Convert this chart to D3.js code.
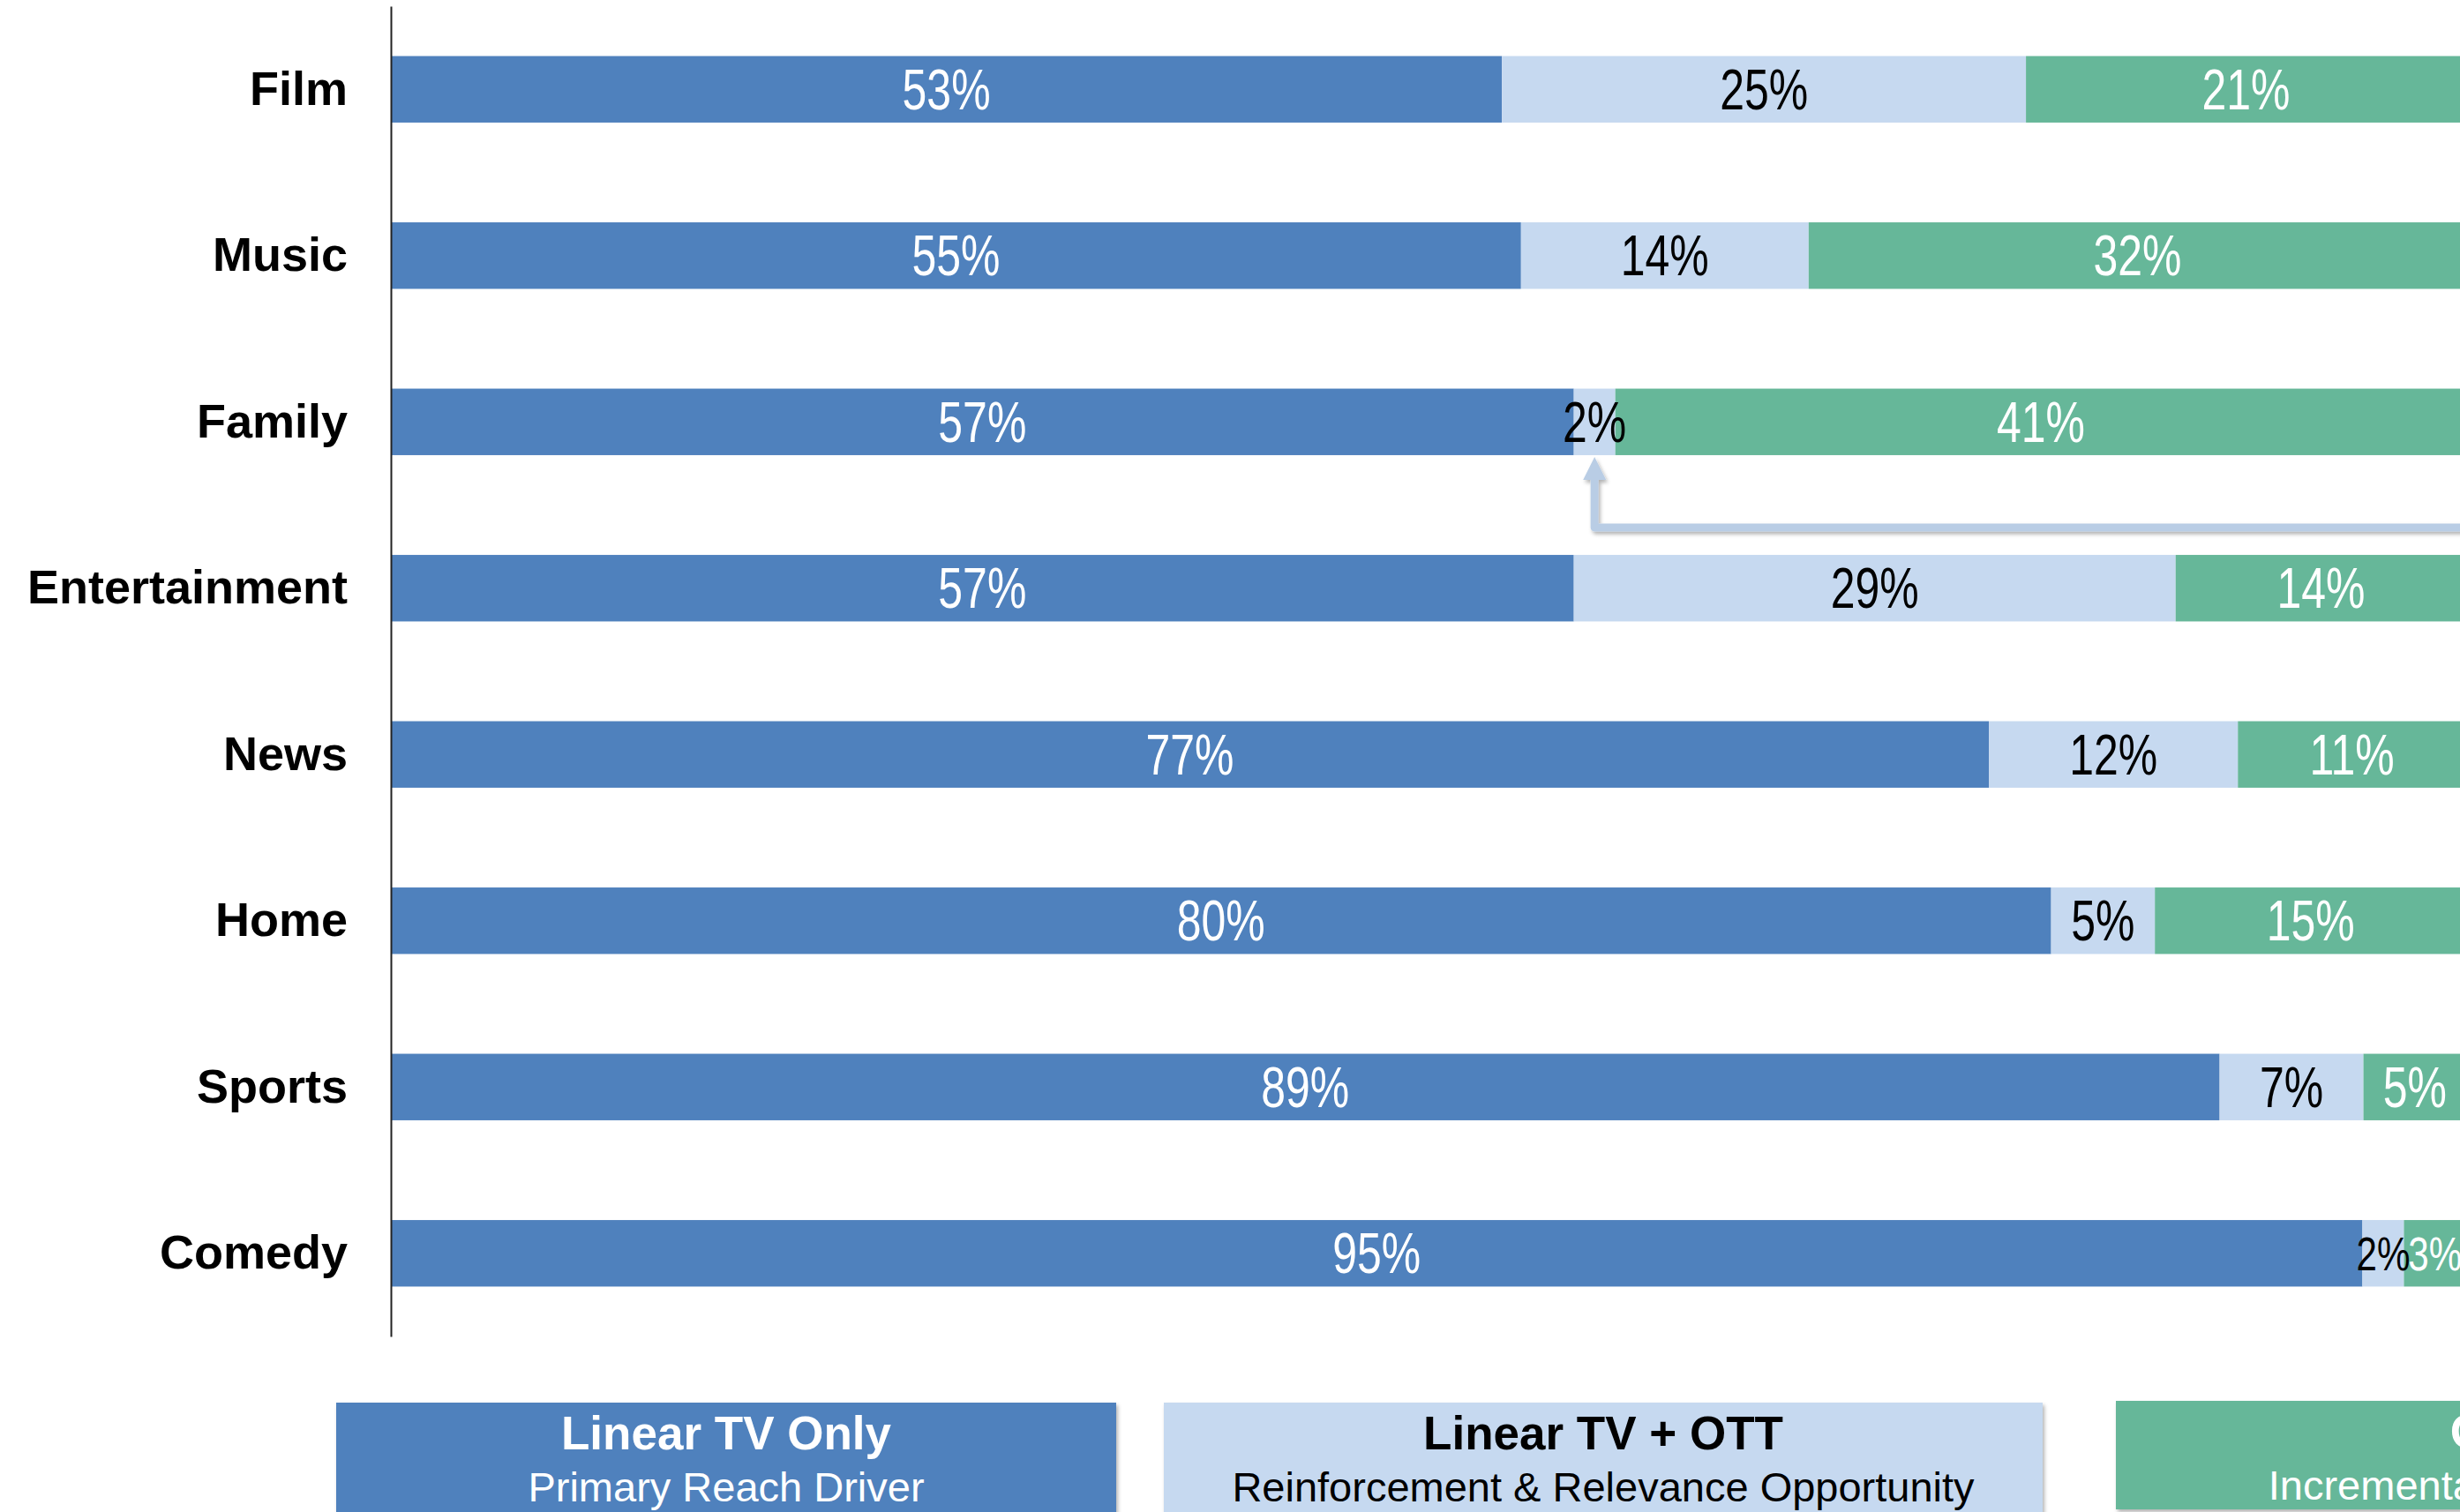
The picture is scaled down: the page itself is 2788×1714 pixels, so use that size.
<!DOCTYPE html>
<html lang="en">
<head>
    <meta charset="UTF-8"/>
    <title>Linear TV vs OTT reach by genre</title>
    <script src="https://d3js.org/d3.v7.min.js"></script>
    <style>
        body { margin: 0; background: #fff; }
        svg { display: block; }
    </style>
</head>
<body>
<script>
    // data
    var categories = ["Film", "Music", "Family", "Entertainment", "News", "Home", "Sports", "Comedy"];
    var linearOnly = [53, 55, 57, 57, 77, 80, 89, 95];
    var linearOtt = [25, 14, 2, 29, 12, 5, 7, 2];
    var ottOnly = [21, 32, 41, 14, 11, 15, 5, 3];
    var seriesNames = ["Linear TV Only", "Linear TV + OTT", "OTT Only"];
    var seriesNotes = ["Primary Reach Driver", "Reinforcement & Relevance Opportunity", "Incremental Reach Opportunity"];

    var keys = ["linearOnly", "linearOtt", "ottOnly"];
    var colors = ["#4F81BD", "#C6D9F0", "#66B799"];
    var textColors = ["#fff", "#000", "#fff"];

    var w = 2788;
    var h = 1714;

    var rows = categories.map(function(c, i) {
        return { cat: c, linearOnly: linearOnly[i], linearOtt: linearOtt[i], ottOnly: ottOnly[i] };
    });

    var stacked = d3.stack().keys(keys).offset(d3.stackOffsetExpand)(rows);

    var xScale = d3.scaleLinear().domain([0, 1]).range([443, 2795]);
    var yScale = d3.scaleBand()
                   .domain(categories)
                   .range([7, 1515])
                   .paddingInner(0.6)
                   .paddingOuter(0.3);

    var svg = d3.select("body")
                .append("svg")
                .attr("width", w)
                .attr("height", h);

    var defs = svg.append("defs");
    defs.append("filter")
        .attr("id", "shadow")
        .attr("x", "-5%").attr("y", "-20%")
        .attr("width", "110%").attr("height", "160%")
        .append("feDropShadow")
        .attr("dx", 2).attr("dy", 3)
        .attr("stdDeviation", 2)
        .attr("flood-color", "#000")
        .attr("flood-opacity", 0.3);

    // bars
    var layers = svg.selectAll("g.layer")
        .data(stacked)
        .enter()
        .append("g")
        .attr("class", "layer")
        .attr("fill", function(d, i) { return colors[i]; });

    layers.selectAll("rect")
        .data(function(d) { return d; })
        .enter()
        .append("rect")
        .attr("x", function(d) { return xScale(d[0]); })
        .attr("y", function(d) { return yScale(d.data.cat); })
        .attr("width", function(d) { return xScale(d[1]) - xScale(d[0]); })
        .attr("height", yScale.bandwidth());

    // value labels
    function isCramped(s, i) {
        var v = rows[i][keys[s]];
        if (v >= 5) return false;
        var prev = s > 0 ? rows[i][keys[s - 1]] : 100;
        var next = s < keys.length - 1 ? rows[i][keys[s + 1]] : 100;
        return prev < 5 || next < 5;
    }

    // squeeze text horizontally, the original font is a narrow one
    function narrow(sel, k) {
        sel.each(function() {
            var len = this.getComputedTextLength();
            d3.select(this)
              .attr("textLength", len * k)
              .attr("lengthAdjust", "spacingAndGlyphs");
        });
    }

    stacked.forEach(function(layer, s) {
        svg.append("g")
            .selectAll("text")
            .data(layer)
            .enter()
            .append("text")
            .attr("x", function(d) { return (xScale(d[0]) + xScale(d[1])) / 2; })
            .attr("y", function(d) { return yScale(d.data.cat) + yScale.bandwidth() / 2; })
            .attr("dy", "0.35em")
            .attr("text-anchor", "middle")
            .attr("font-family", "'Liberation Sans', Arial, sans-serif")
            .attr("font-size", function(d, i) { return isCramped(s, i) ? "54px" : "64px"; })
            .attr("fill", textColors[s])
            .text(function(d) { return d.data[keys[s]] + "%"; })
            .call(narrow, 0.78);
    });

    // category axis
    var yAxis = d3.axisLeft(yScale).tickSize(0).tickSizeOuter(0).tickPadding(49);
    var axisG = svg.append("g")
        .attr("transform", "translate(443,0)")
        .call(yAxis);
    axisG.select(".domain").attr("stroke", "#222").attr("stroke-width", 2);
    axisG.selectAll("text")
        .attr("font-family", "'Liberation Sans', Arial, sans-serif")
        .attr("font-size", "54px")
        .attr("font-weight", "bold")
        .attr("fill", "#000");

    // arrow from the Family "Linear TV + OTT" sliver
    var famIdx = categories.indexOf("Family");
    var seg = stacked[1][famIdx];
    var ax = (xScale(seg[0]) + xScale(seg[1])) / 2;
    var tipY = yScale("Family") + yScale.bandwidth() + 2;
    var elbowY = tipY + 80;
    var arrow = svg.append("g").attr("filter", "url(#shadow)");
    arrow.append("path")
        .attr("d", "M" + (w + 20) + "," + elbowY + " L" + ax + "," + elbowY + " L" + ax + "," + (tipY + 22))
        .attr("fill", "none")
        .attr("stroke", "#B9CDE5")
        .attr("stroke-width", 9)
        .attr("stroke-linejoin", "round");
    arrow.append("path")
        .attr("d", "M" + ax + "," + tipY + " L" + (ax - 13) + "," + (tipY + 26) + " L" + (ax + 13) + "," + (tipY + 26) + " Z")
        .attr("fill", "#B9CDE5");

    // legend boxes
    var legendBoxes = [
        { x: 381, y: 1590, w: 884, h: 140 },
        { x: 1319, y: 1590, w: 996, h: 140 },
        { x: 2398, y: 1588, w: 996, h: 123 }
    ];

    var legend = svg.selectAll("g.legend")
        .data(seriesNames)
        .enter()
        .append("g")
        .attr("class", "legend");

    legend.append("rect")
        .attr("x", function(d, i) { return legendBoxes[i].x; })
        .attr("y", function(d, i) { return legendBoxes[i].y; })
        .attr("width", function(d, i) { return legendBoxes[i].w; })
        .attr("height", function(d, i) { return legendBoxes[i].h; })
        .attr("fill", function(d, i) { return colors[i]; })
        .attr("filter", "url(#shadow)");

    legend.append("text")
        .attr("x", function(d, i) { return legendBoxes[i].x + legendBoxes[i].w / 2; })
        .attr("y", function(d, i) { return legendBoxes[i].y + 53; })
        .attr("text-anchor", "middle")
        .attr("font-family", "'Liberation Sans', Arial, sans-serif")
        .attr("font-size", "53px")
        .attr("font-weight", "bold")
        .attr("fill", function(d, i) { return textColors[i]; })
        .text(function(d) { return d; });

    legend.append("text")
        .attr("x", function(d, i) { return legendBoxes[i].x + legendBoxes[i].w / 2; })
        .attr("y", function(d, i) { return legendBoxes[i].y + 112; })
        .attr("text-anchor", "middle")
        .attr("font-family", "'Liberation Sans', Arial, sans-serif")
        .attr("font-size", "47px")
        .attr("fill", function(d, i) { return textColors[i]; })
        .text(function(d, i) { return seriesNotes[i]; });
</script>
</body>
</html>
